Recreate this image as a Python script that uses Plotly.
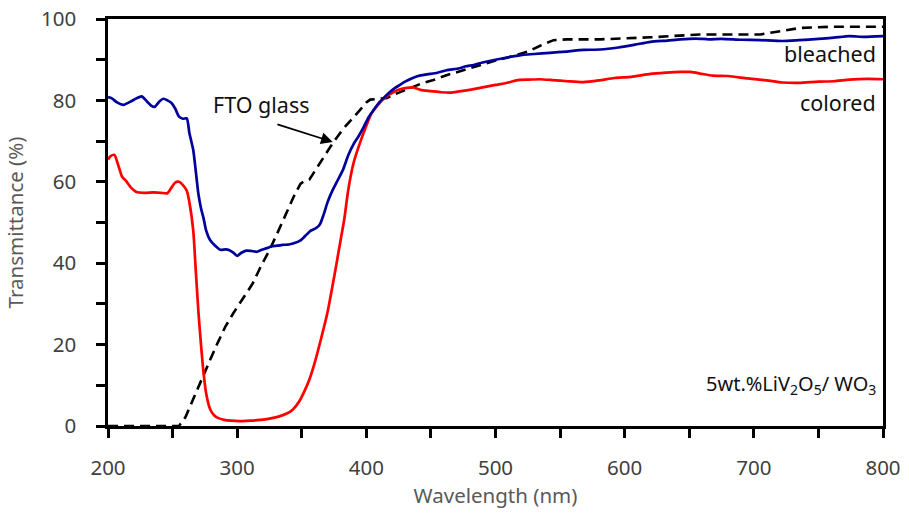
import plotly.graph_objects as go

# Wavelength (nm) / transmittance (%) for the bleached and colored film states
bleached_wl = [200, 203, 207, 212, 218, 222, 226, 230, 234, 236, 240, 243, 246, 249, 252, 255, 258, 261,
               263, 266, 268, 270, 272, 274, 276, 279, 283, 287, 291, 294, 297, 300, 303, 307, 311, 315,
               319, 323, 327, 331, 335, 340, 345, 349, 353, 357, 361, 364, 367, 370, 374, 378, 382, 386,
               390, 394, 398, 402, 406, 410, 414, 418, 422, 426, 430, 435, 440, 447, 455, 462, 472, 477,
               483, 490, 500, 510, 521, 530, 542, 555, 568, 581, 595, 608, 620, 633, 643, 655, 665, 675,
               690, 705, 722, 735, 750, 762, 774, 785, 800]
bleached_t = [80.8, 80.5, 79.5, 78.9, 79.8, 80.5, 81.0, 79.8, 78.6, 78.4, 79.8, 80.4, 80.0, 79.4, 78.0, 76.0,
              75.5, 75.6, 72.0, 67.8, 62.5, 57.0, 53.5, 51.0, 48.0, 45.7, 44.3, 43.3, 43.4, 43.2, 42.6, 41.8,
              42.5, 43.1, 43.0, 42.8, 43.3, 43.7, 44.2, 44.3, 44.5, 44.6, 45.0, 45.6, 46.8, 48.0, 48.6, 49.5,
              52.0, 55.0, 58.0, 60.5, 63.0, 66.5, 69.2, 71.2, 73.5, 76.0, 77.8, 79.5, 80.8, 82.0, 83.0, 83.8,
              84.6, 85.4, 86.0, 86.4, 86.8, 87.4, 87.9, 88.4, 88.7, 89.3, 90.0, 90.6, 91.2, 91.4, 91.7, 92.0,
              92.4, 92.5, 93.0, 93.7, 94.4, 94.7, 95.0, 95.2, 95.0, 95.1, 94.9, 94.8, 94.6, 94.8, 95.1, 95.4,
              95.8, 95.6, 95.8]

colored_wl = [200, 202, 205, 208, 211, 214, 218, 222, 228, 235, 241, 246, 249, 252, 255, 258, 261, 263,
              266, 268, 270, 272, 274, 276, 279, 282, 285, 290, 295, 302, 310, 318, 325, 332, 338, 343,
              348, 352, 356, 360, 365, 370, 375, 380, 383, 386, 390, 395, 400, 404, 408, 413, 418, 424,
              430, 436, 442, 450, 458, 465, 472, 480, 490, 500, 510, 517, 526, 534, 544, 556, 568, 580,
              592, 605, 620, 632, 643, 651, 660, 668, 680, 695, 710, 722, 735, 750, 762, 774, 788, 800]
colored_t = [65.5, 66.3, 66.6, 64.0, 61.2, 60.2, 58.5, 57.5, 57.3, 57.4, 57.3, 57.2, 58.5, 59.8, 60.0, 59.2,
             57.8, 55.0, 48.0, 38.0, 28.0, 20.0, 13.0, 8.0, 4.2, 2.7, 2.0, 1.5, 1.3, 1.2, 1.3, 1.5, 1.8,
             2.3, 3.0, 4.0, 6.0, 8.5, 11.5, 15.5, 21.5, 28.0, 36.5, 45.5, 51.0, 58.0, 64.5, 69.5, 73.8,
             76.8, 78.5, 80.3, 81.5, 82.5, 83.0, 83.2, 82.6, 82.3, 82.0, 81.9, 82.2, 82.6, 83.2, 83.8, 84.4,
             85.0, 85.1, 85.2, 85.0, 84.7, 84.5, 84.9, 85.5, 85.8, 86.5, 86.8, 87.0, 87.0, 86.5, 86.1, 86.0,
             85.4, 84.9, 84.4, 84.3, 84.6, 84.7, 85.1, 85.3, 85.2]

# Bare FTO glass substrate
fto_wl = [200, 255, 260, 265, 270, 275, 279, 285, 291, 297, 304, 312, 318, 325, 332, 338, 344, 349, 352,
          356, 362, 368, 374, 382, 388, 395, 400, 403, 410, 416, 422, 428, 434, 443, 452, 462, 472, 485,
          500, 508, 517, 525, 535, 545, 555, 581, 620, 658, 705, 720, 736, 760, 800]
fto_t = [0, 0, 2.2, 6.0, 9.5, 13.5, 16.2, 20.5, 24.5, 27.7, 31.0, 35.0, 39.0, 43.2, 48.0, 52.3, 56.5, 59.5,
         60.2, 60.6, 63.5, 66.5, 69.5, 73.0, 75.0, 77.6, 79.5, 80.2, 80.4, 80.6, 81.5, 82.3, 83.0, 84.2,
         85.0, 86.2, 87.1, 88.4, 89.8, 90.4, 91.2, 92.0, 93.5, 94.8, 95.0, 95.0, 95.5, 96.2, 96.2, 97.0,
         97.8, 98.1, 98.1]

x_ticks = list(range(200, 801, 50))
x_labels = [str(v) if v % 100 == 0 else "" for v in x_ticks]
y_ticks = list(range(0, 101, 10))
y_labels = [str(v) if v % 20 == 0 else "" for v in y_ticks]

FONT = "Noto Sans"

fig = go.Figure()
fig.add_trace(go.Scatter(x=fto_wl, y=fto_t, mode="lines", name="FTO glass",
                         line=dict(color="black", width=2.6, dash="10px,6px")))
fig.add_trace(go.Scatter(x=colored_wl, y=colored_t, mode="lines", name="colored",
                         line=dict(color="#FF0000", width=2.7, shape="spline", smoothing=0.6)))
fig.add_trace(go.Scatter(x=bleached_wl, y=bleached_t, mode="lines", name="bleached",
                         line=dict(color="#00009C", width=2.7, shape="spline", smoothing=0.6)))

# Arrow pointing at the FTO curve, plus curve labels
fig.add_annotation(x=374, y=69.8, ax=330, ay=74.2, xref="x", yref="y", axref="x", ayref="y",
                   text="", showarrow=True, arrowhead=2, arrowsize=1.3, arrowwidth=1.8, arrowcolor="black")
fig.add_annotation(x=318.5, y=79.0, text="FTO glass", showarrow=False,
                   font=dict(family=FONT, size=21.5, color="#111111"))
fig.add_annotation(x=796, y=91.6, text="bleached", showarrow=False, xanchor="right",
                   font=dict(family=FONT, size=21.5, color="#111111"))
fig.add_annotation(x=796, y=79.4, text="colored", showarrow=False, xanchor="right",
                   font=dict(family=FONT, size=21.5, color="#111111"))
fig.add_annotation(x=796, y=10.2, text="5wt.%LiV<sub>2</sub>O<sub>5</sub>/ WO<sub>3</sub>",
                   showarrow=False, xanchor="right",
                   font=dict(family=FONT, size=20, color="#111111"))

fig.update_layout(
    width=909, height=516,
    margin=dict(l=108, r=26, t=19, b=90, autoexpand=False),
    paper_bgcolor="white", plot_bgcolor="white",
    showlegend=False,
    font=dict(family=FONT, size=20, color="#404040"),
)
fig.update_xaxes(range=[200, 800], tickvals=x_ticks, ticktext=x_labels, automargin=False,
                 ticks="outside", ticklen=9, tickwidth=2.5, tickcolor="black",
                 showline=True, linewidth=2.5, linecolor="black", mirror=True,
                 showgrid=False, zeroline=False, ticklabelstandoff=13,
                 tickfont=dict(family=FONT, size=20.5, color="#404040"),
                 title=dict(text="Wavelength (nm)", standoff=4,
                            font=dict(family=FONT, size=20.5, color="#595959")))
fig.update_yaxes(range=[0, 100], tickvals=y_ticks, ticktext=y_labels, automargin=False,
                 ticks="outside", ticklen=9, tickwidth=2.5, tickcolor="black",
                 showline=True, linewidth=2.5, linecolor="black", mirror=True,
                 showgrid=False, zeroline=False, ticklabelstandoff=16,
                 tickfont=dict(family=FONT, size=20.5, color="#404040"),
                 title=dict(text="Transmittance (%)", standoff=12,
                            font=dict(family=FONT, size=20.5, color="#595959")))

fig.write_html("out.html")
